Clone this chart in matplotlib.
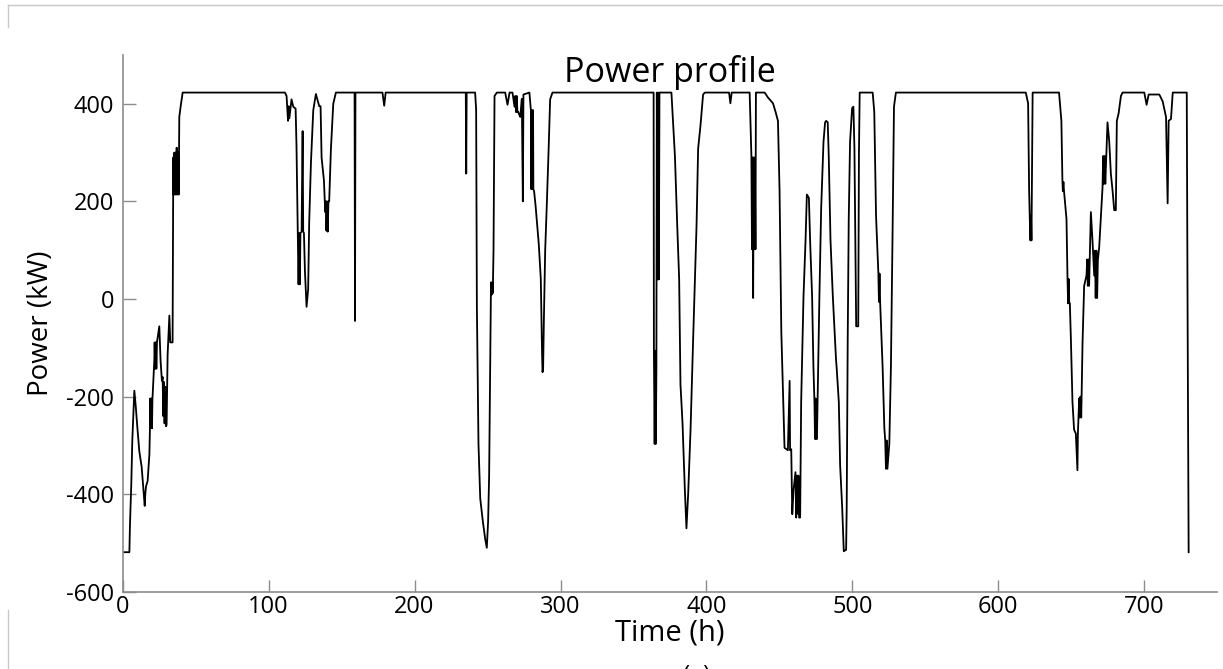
import matplotlib
matplotlib.use("Agg")
import matplotlib.pyplot as plt
from matplotlib.lines import Line2D

# ---- data ----
hours = [
    0, 4.6, 5.0, 5.9, 6.6, 7.3, 8.0, 9.1, 10.0, 11.4, 13.0, 14.2, 15.1, 15.5, 16.0, 17.1, 18.3,
    18.7, 18.9, 19.3, 19.7, 20.1, 20.4, 20.5, 21.7, 21.9, 22.3, 22.7, 23.1, 23.5, 25.1, 26.0, 26.9,
    27.4, 27.8, 28.2, 28.7, 29.2, 29.7, 30.1, 30.8, 32.0, 32.6, 34.2, 34.7, 35.0, 35.4, 35.8, 36.2,
    36.6, 37.0, 37.4, 38.0, 38.4, 38.8, 39.7, 41.1,
    111.2, 112.3, 112.8, 113.3, 113.7, 114.2, 115.7, 116.9, 118.5, 119.1, 120.0, 120.5, 121.0,
    121.4, 121.8, 122.6, 123.3, 123.7, 124.2, 124.9, 126.0, 127.1, 127.8, 129.0, 130.6, 132.4,
    133.3, 134.7, 135.6, 136.3, 137.9, 138.8, 139.3, 139.6, 140.0, 140.5, 141.0, 141.5, 142.7,
    144.3, 146.1, 158.9, 159.2, 159.5, 178.0, 179.2, 180.2,
    235.1, 235.4, 235.7, 241.5, 242.2, 242.7, 243.8, 245.0, 246.8, 248.4, 249.5, 250.4, 251.1,
    252.3, 252.5, 252.9, 253.3, 253.6, 254.1, 254.8, 256.4, 262.1, 263.7, 265.1, 267.1, 268.5,
    269.0, 269.5, 270.0, 270.5, 271.0, 272.4, 273.5, 274.2, 274.6, 278.7, 279.7, 280.0, 280.4,
    280.8, 281.2, 281.4, 281.9, 282.9, 285.1, 286.5, 287.4, 287.7, 288.1, 288.6, 289.5, 290.6,
    291.8, 292.9, 294.5,
    363.8, 364.0, 364.5, 364.9, 365.3, 365.7, 366.0, 366.5, 367.0, 367.4, 367.8, 376.0, 378.4,
    380.0, 381.3, 382.2, 383.6, 385.2, 386.3, 387.5, 389.1, 390.9, 393.2, 394.3, 395.9, 397.7,
    398.9, 415.5, 416.4, 417.3, 429.6, 430.8, 431.2, 431.6, 432.0, 432.4, 432.8, 433.2, 433.6,
    433.9, 439.9, 442.1, 445.6, 447.4, 449.0, 450.1, 451.3, 452.4, 453.5, 455.8, 457.0, 457.3,
    458.1, 458.8, 459.7, 461.0, 461.5, 462.0, 462.5, 463.0, 463.5, 464.2, 464.9, 466.5, 467.9,
    468.8, 470.2, 471.1, 472.4, 473.3, 474.0, 474.4, 474.8, 475.2, 475.7, 476.3, 477.4, 478.6,
    480.2, 481.3, 482.0, 483.1, 483.8, 485.0, 486.6, 488.8, 489.2, 490.7, 491.6, 493.0, 494.1,
    495.7, 496.1, 496.8, 497.5, 498.4, 499.8, 500.7, 501.4, 502.6, 504.0, 504.5, 505.0,
    513.9, 515.0, 516.2, 517.3, 517.8, 518.2, 518.6, 519.0, 520.7, 521.9, 522.5, 523.0, 523.5,
    524.0, 525.3, 526.4, 527.5, 528.5, 529.8,
    618.8, 620.4, 621.1, 621.5, 622.0, 622.4, 622.7, 623.5, 641.6, 643.2, 643.9, 644.2, 644.6,
    645.0, 646.7, 647.4, 647.8, 648.2, 648.6, 649.0, 649.7, 650.8, 651.9, 653.1, 654.2, 654.5,
    655.4, 655.8, 656.3, 656.8, 657.7, 658.8, 660.4, 660.9, 661.3, 661.8, 662.2, 663.4, 664.5,
    665.7, 666.2, 666.7, 667.2, 667.7, 668.2, 669.1, 670.3, 671.4, 671.8, 672.3, 672.8, 673.3,
    674.8, 676.0, 677.1, 678.3, 679.4, 680.5, 681.2, 682.4, 684.0, 685.1, 700.0, 701.6, 703.0,
    710.3, 712.6, 714.9, 716.0, 716.7, 718.3, 719.5, 729.1, 729.7, 730.4,
]

power_kw = [
    -519, -519, -463, -380, -290, -240, -188, -225, -261, -312, -344, -391, -424, -400, -384, -373, -319,
    -265, -204, -265, -204, -265, -204, -200, -125, -89, -143, -89, -143, -89, -56, -128, -168,
    -160, -240, -170, -255, -180, -261, -258, -114, -34, -89, -89, 290, 214, 300, 214, 300,
    214, 310, 214, 300, 214, 373, 394, 423,
    423, 416, 390, 365, 395, 370, 409, 394, 390, 315, 135, 30, 135,
    30, 135, 138, 344, 138, 135, 56, -16, 20, 156, 279, 387, 420,
    410, 395, 395, 290, 243, 178, 200, 140, 200, 138, 200, 200, 308,
    400, 423, 423, -45, 423, 423, 396, 423,
    423, 257, 423, 423, 388, -16, -297, -409, -456, -492, -510, -456, -362,
    12, 34, 9, 34, 12, 99, 416, 423, 423, 398, 423, 423, 394,
    416, 383, 416, 383, 383, 373, 410, 200, 419, 423, 387, 225, 387,
    225, 387, 225, 221, 192, 113, 41, -117, -150, -140, -45, 99, 192,
    301, 409, 423,
    423, -106, -297, -106, -297, -150, 423, 40, 423, 40, 423, 423, 293,
    149, 41, -175, -254, -391, -470, -398, -268, -81, 149, 308, 355, 419,
    423, 423, 401, 423, 423, 293, 102, 290, 2, 290, 102, 290, 102,
    423, 423, 413, 401, 383, 365, 221, -67, -189, -305, -310, -168, -310,
    -308, -441, -391, -355, -448, -362, -440, -362, -448, -448, -211, 5, 120,
    214, 207, 113, 5, -139, -211, -287, -204, -287, -287, -182, 5, 185,
    322, 362, 365, 362, 293, 120, 5, -125, -140, -211, -341, -427, -517,
    -514, -427, -81, 164, 322, 391, 394, 308, -56, -56, 300, 423,
    423, 383, 171, 92, 52, -6, 52, -6, -139, -265, -290, -348, -290,
    -348, -297, -139, 128, 394, 423,
    423, 401, 221, 171, 120, 171, 120, 423, 423, 365, 243, 221, 240,
    221, 164, 41, -9, 41, -9, -9, -81, -211, -268, -276, -351, -276,
    -204, -243, -200, -243, -89, 27, 48, 81, 27, 81, 27, 178, 120,
    48, 99, 2, 99, 2, 80, 106, 171, 229, 293, 236, 293, 236,
    362, 322, 257, 221, 182, 182, 365, 380, 416, 423, 423, 398, 419,
    419, 405, 373, 196, 365, 369, 423, 423, -45, -519,
]

x_ticks = [0, 100, 200, 300, 400, 500, 600, 700]
y_ticks = [-600, -400, -200, 0, 200, 400]

title_text = "Power profile"
x_label = "Time (h)"
y_label = "Power (kW)"

# ---- figure ----
plt.rcParams['font.family'] = ['Open Sans', 'DejaVu Sans']

fig = plt.figure(figsize=(12.23, 6.69), dpi=100)
ax = fig.add_axes([0.1003, 0.1155, 0.8950, 0.8023])

ax.plot(hours, power_kw, color='black', linewidth=1.3)

ax.set_xlim(0, 750)
ax.set_ylim(-600, 500)
ax.set_xticks(x_ticks)
ax.set_yticks(y_ticks)
ax.set_xticklabels([str(v) for v in x_ticks])
ax.set_yticklabels([str(v) for v in y_ticks])

for side in ['top', 'right']:
    ax.spines[side].set_visible(False)
for side in ['left', 'bottom']:
    ax.spines[side].set_color('#8c8c8c')
    ax.spines[side].set_linewidth(1.2)

ax.tick_params(axis='both', direction='in', length=9, width=1, color='#8c8c8c',
               labelsize=17, labelcolor='black')
ax.tick_params(axis='x', pad=2)
ax.tick_params(axis='y', pad=6)

ax.text(0.5, 0.968, title_text, fontsize=24.5, ha='center', va='center',
        transform=ax.transAxes)
ax.set_xlabel(x_label, fontsize=21, labelpad=0)
ax.set_ylabel(y_label, fontsize=20, labelpad=8)

# scan frame artefacts of the original figure
fig.add_artist(Line2D([8 / 1223, 1.0], [1 - 5 / 669, 1 - 5 / 669], transform=fig.transFigure,
                      color='#c8c8c8', linewidth=1))
fig.add_artist(Line2D([8 / 1223, 8 / 1223], [1 - 5 / 669, 1 - 27 / 669], transform=fig.transFigure,
                      color='#c8c8c8', linewidth=1))
fig.add_artist(Line2D([8 / 1223, 8 / 1223], [0, 1 - 610 / 669], transform=fig.transFigure,
                      color='#c8c8c8', linewidth=1))
fig.text(697 / 1223, 5 / 669, "(a)", fontsize=17, ha='center', va='top')

fig.savefig("out.png", dpi=100)
